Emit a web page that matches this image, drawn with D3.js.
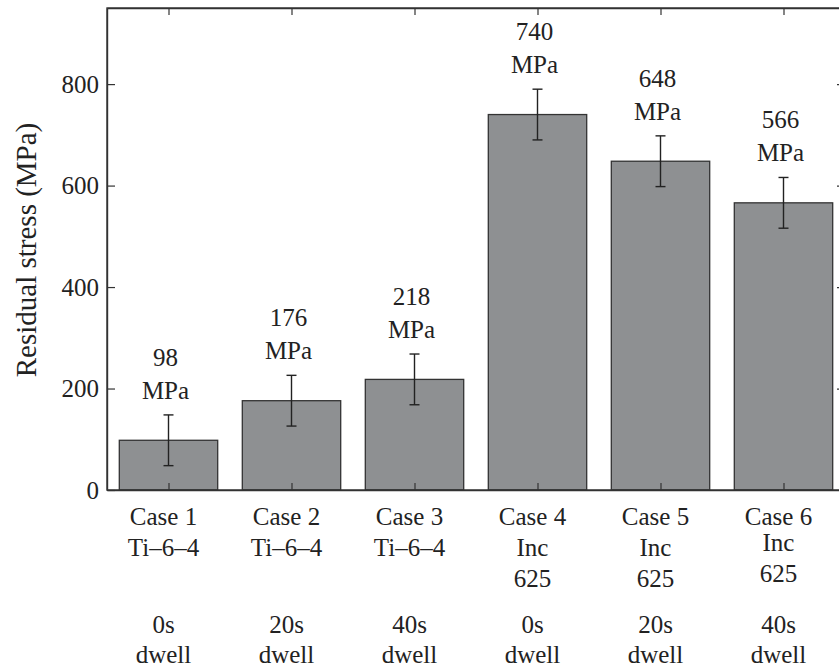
<!DOCTYPE html>
<html>
<head>
<meta charset="utf-8">
<script src="https://cdn.jsdelivr.net/npm/d3@7"></script>
<style>
  html, body { margin: 0; padding: 0; background: #fff; }
  svg { display: block; }
</style>
</head>
<body>
<svg id="chart" width="839" height="669"></svg>
<script>
// ---- data ----
const cases = ["Case 1", "Case 2", "Case 3", "Case 4", "Case 5", "Case 6"];
const materials = [["Ti\u20136\u20134"], ["Ti\u20136\u20134"], ["Ti\u20136\u20134"], ["Inc", "625"], ["Inc", "625"], ["Inc", "625"]];
const dwells = ["0s", "20s", "40s", "0s", "20s", "40s"];
const stress = [98, 176, 218, 740, 648, 566];
const errors = [50, 50, 50, 50, 50, 50];
const yTicks = [0, 200, 400, 600, 800];
const yLabel = "Residual stress (MPa)";

// ---- layout ----
const FONT = "'Liberation Serif', 'Times New Roman', Times, serif";
const svg = d3.select("#chart");
const mLeft = 107, mRight = 845, mTop = 8, mBottom = 490;

const x = d3.scaleLinear().domain([0.5, 6.5]).range([mLeft, mRight]);
const y = d3.scaleLinear().domain([0, 950]).range([mBottom, mTop]);
const idx = cases.map((d, i) => i + 1);
const barHalf = 0.4;

// bars
svg.append("g").selectAll("rect").data(stress).join("rect")
  .attr("x", (d, i) => x(idx[i] - barHalf))
  .attr("width", (d, i) => x(idx[i] + barHalf) - x(idx[i] - barHalf))
  .attr("y", d => y(d))
  .attr("height", d => y(0) - y(d))
  .attr("fill", "#8e9092")
  .attr("stroke", "#333")
  .attr("stroke-width", 1.3);

// error bars
const eg = svg.append("g").attr("stroke", "#222").attr("stroke-width", 1.4);
stress.forEach((v, i) => {
  const cx = x(idx[i]);
  eg.append("line").attr("x1", cx).attr("x2", cx).attr("y1", y(v - errors[i])).attr("y2", y(v + errors[i]));
  eg.append("line").attr("x1", cx - 5).attr("x2", cx + 5).attr("y1", y(v + errors[i])).attr("y2", y(v + errors[i]));
  eg.append("line").attr("x1", cx - 5).attr("x2", cx + 5).attr("y1", y(v - errors[i])).attr("y2", y(v - errors[i]));
});

function styleText(sel, size) {
  return sel.style("font-family", FONT).style("font-size", size + "px").style("fill", "#222");
}

// value labels
stress.forEach((v, i) => {
  const cx = x(idx[i]) - 3;
  const base = y(v + errors[i]) - 16;
  styleText(svg.append("text").attr("x", cx).attr("y", base - 33).attr("text-anchor", "middle").text(v), 25);
  styleText(svg.append("text").attr("x", cx).attr("y", base).attr("text-anchor", "middle").text("MPa"), 25);
});

// axes (box with inward ticks)
const axisColor = "#333";
const leftAxis = d3.axisLeft(y).tickValues(yTicks).tickSizeInner(-8).tickSizeOuter(0).tickPadding(8);
const gl = svg.append("g").attr("transform", `translate(${mLeft},0)`).call(leftAxis);
styleText(gl.selectAll("text"), 25);
const rightAxis = d3.axisRight(y).tickValues(yTicks).tickSizeInner(-8).tickSizeOuter(0).tickFormat("");
svg.append("g").attr("transform", `translate(${mRight},0)`).call(rightAxis);
const topAxis = d3.axisTop(x).tickValues(idx).tickSizeInner(-7).tickSizeOuter(0).tickFormat("");
svg.append("g").attr("transform", `translate(0,${mTop})`).call(topAxis);
const bottomAxis = d3.axisBottom(x).tickValues(idx).tickSizeInner(-7).tickSizeOuter(0).tickFormat("");
svg.append("g").attr("transform", `translate(0,${mBottom})`).call(bottomAxis);
svg.selectAll(".domain").attr("stroke", axisColor).attr("stroke-width", 1.4);
svg.selectAll(".tick line").attr("stroke", axisColor).attr("stroke-width", 1.2);

// full box
svg.append("rect").attr("x", mLeft).attr("y", mTop).attr("width", mRight - mLeft).attr("height", mBottom - mTop)
  .attr("fill", "none").attr("stroke", axisColor).attr("stroke-width", 1.4);

// x category labels
cases.forEach((c, i) => {
  const cx = x(idx[i]) - 5;
  const lift = i === 5 ? 5 : 0;
  styleText(svg.append("text").attr("x", cx).attr("y", 525).attr("text-anchor", "middle").text(c), 25);
  materials[i].forEach((m, j) => {
    styleText(svg.append("text").attr("x", cx).attr("y", 556 - lift + j * 31).attr("text-anchor", "middle").text(m), 25);
  });
  styleText(svg.append("text").attr("x", cx).attr("y", 633).attr("text-anchor", "middle").text(dwells[i]), 25);
  styleText(svg.append("text").attr("x", cx).attr("y", 663).attr("text-anchor", "middle").text("dwell"), 25);
});

// y axis label
styleText(svg.append("text")
  .attr("transform", `translate(36,250) rotate(-90)`)
  .attr("text-anchor", "middle")
  .text(yLabel), 29);
</script>
</body>
</html>
